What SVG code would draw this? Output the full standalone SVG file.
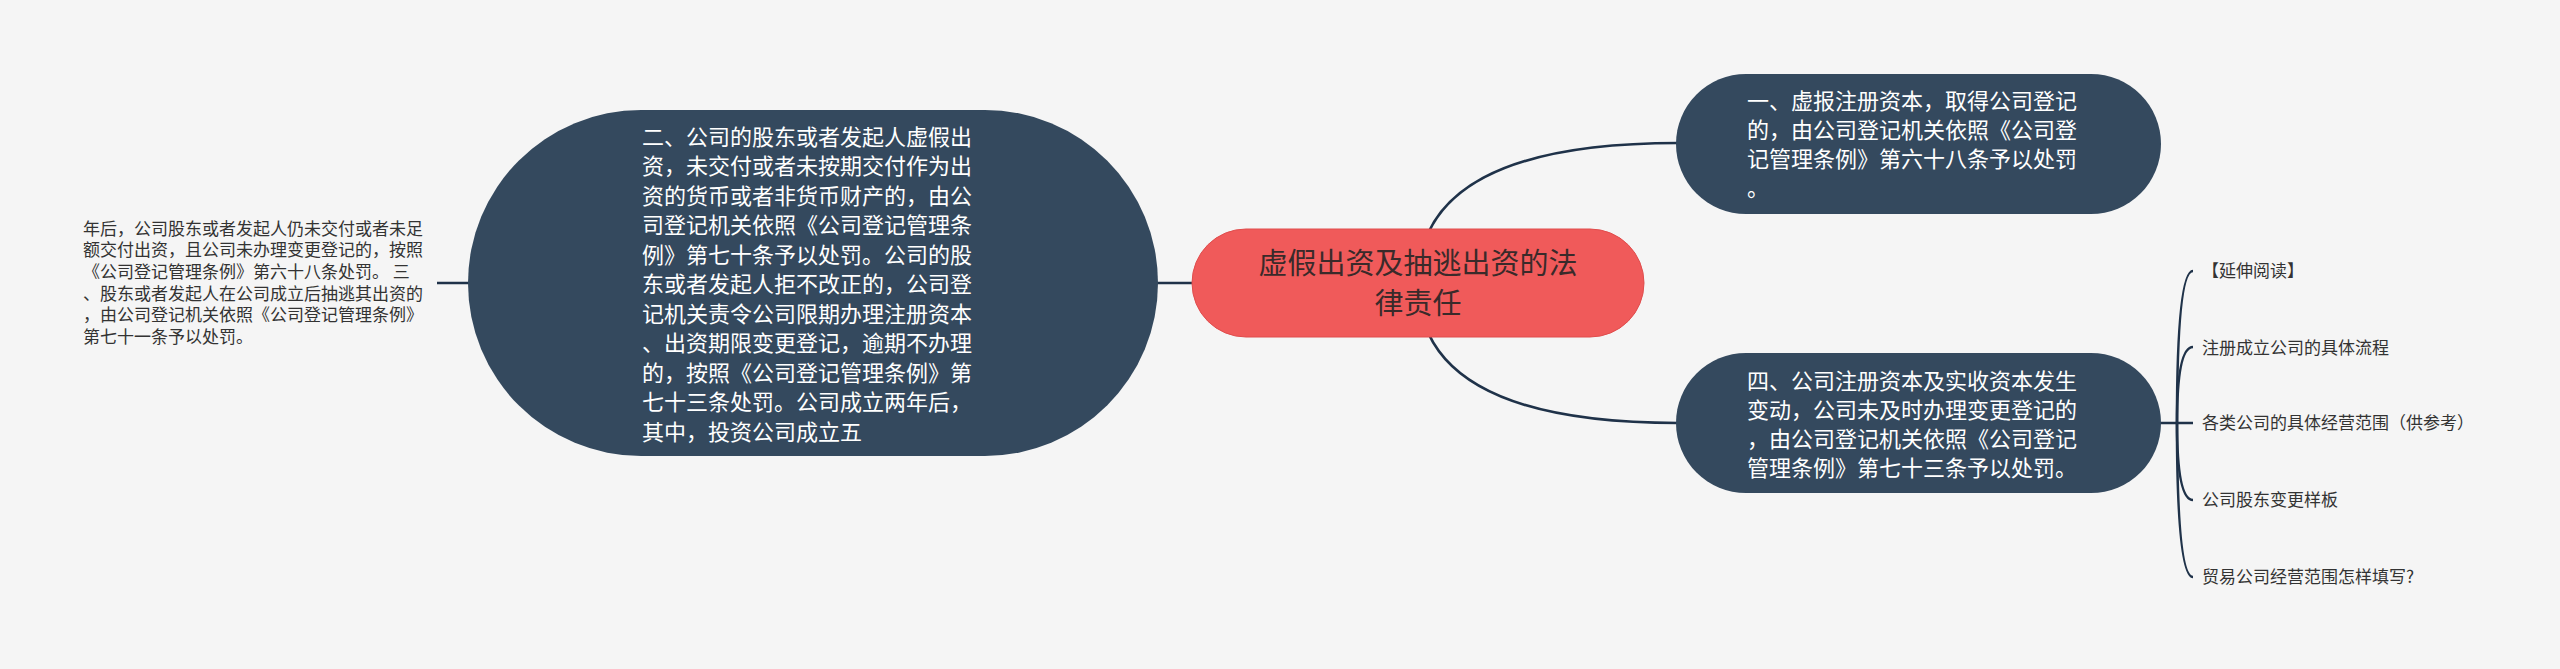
<svg xmlns="http://www.w3.org/2000/svg" width="2560" height="669" viewBox="0 0 2560 669">
<style>
.bg{fill:#f5f5f5}
.node{fill:#34495e}
.root{fill:#f05a5a;stroke:#e04d4d;stroke-width:1}
.conn{fill:none;stroke:#1f3249;stroke-width:2.6}
text{font-family:"Noto Sans CJK SC","Noto Sans",sans-serif}
.wt{fill:#ffffff;font-size:22px}
.rt{fill:#3a2a2a;font-size:29px;text-anchor:middle}
.pt{fill:#333333;font-size:17px}
</style>
<rect class="bg" x="0" y="0" width="2560" height="669"/>
<g id="connectors">
<line class="conn" x1="437" y1="283" x2="470" y2="283"/>
<line class="conn" x1="1156" y1="283" x2="1194" y2="283"/>
<path class="conn" d="M1418 283 Q1418 143 1678 143"/>
<path class="conn" d="M1418 283 Q1418 423 1678 423"/>
<line class="conn" x1="2159" y1="423" x2="2193" y2="423"/>
<path class="conn" d="M2177 423 Q2177 271 2193 271"/>
<path class="conn" d="M2177 423 Q2177 347 2193 347"/>
<path class="conn" d="M2177 423 Q2177 500 2193 500"/>
<path class="conn" d="M2177 423 Q2177 577 2193 577"/>
</g>
<g id="root">
<rect class="root" x="1192" y="229" width="452" height="108" rx="54"/>
<text class="rt" x="1418" y="274">虚假出资及抽逃出资的法</text>
<text class="rt" x="1418" y="314">律责任</text>
</g>
<g id="node-left">
<rect class="node" x="468" y="110" width="690" height="346" rx="173"/>
<text class="wt" x="642"><tspan x="642" y="144.5">二、公司的股东或者发起人虚假出</tspan><tspan x="642" y="174">资，未交付或者未按期交付作为出</tspan><tspan x="642" y="203.5">资的货币或者非货币财产的，由公</tspan><tspan x="642" y="233">司登记机关依照《公司登记管理条</tspan><tspan x="642" y="262.5">例》第七十条予以处罚。公司的股</tspan><tspan x="642" y="292">东或者发起人拒不改正的，公司登</tspan><tspan x="642" y="321.5">记机关责令公司限期办理注册资本</tspan><tspan x="642" y="351">、出资期限变更登记，逾期不办理</tspan><tspan x="642" y="380.5">的，按照《公司登记管理条例》第</tspan><tspan x="642" y="410">七十三条处罚。公司成立两年后，</tspan><tspan x="642" y="439.5">其中，投资公司成立五</tspan></text>
</g>
<g id="text-left">
<text class="pt"><tspan x="83" y="234.5">年后，公司股东或者发起人仍未交付或者未足</tspan><tspan x="83" y="256.2">额交付出资，且公司未办理变更登记的，按照</tspan><tspan x="83" y="277.9">《公司登记管理条例》第六十八条处罚。 三</tspan><tspan x="83" y="299.6">、股东或者发起人在公司成立后抽逃其出资的</tspan><tspan x="83" y="321.3">，由公司登记机关依照《公司登记管理条例》</tspan><tspan x="83" y="343">第七十一条予以处罚。</tspan></text>
</g>
<g id="node-r1">
<rect class="node" x="1676" y="74" width="485" height="140" rx="70"/>
<text class="wt"><tspan x="1747" y="109">一、虚报注册资本，取得公司登记</tspan><tspan x="1747" y="138">的，由公司登记机关依照《公司登</tspan><tspan x="1747" y="167">记管理条例》第六十八条予以处罚</tspan><tspan x="1747" y="196">。</tspan></text>
</g>
<g id="node-r2">
<rect class="node" x="1676" y="353" width="485" height="140" rx="70"/>
<text class="wt"><tspan x="1747" y="389">四、公司注册资本及实收资本发生</tspan><tspan x="1747" y="418">变动，公司未及时办理变更登记的</tspan><tspan x="1747" y="447">，由公司登记机关依照《公司登记</tspan><tspan x="1747" y="476">管理条例》第七十三条予以处罚。</tspan></text>
</g>
<g id="item-1"><text class="pt" x="2202" y="277">【延伸阅读】</text></g>
<g id="item-2"><text class="pt" x="2202" y="353.5">注册成立公司的具体流程</text></g>
<g id="item-3"><text class="pt" x="2202" y="429">各类公司的具体经营范围（供参考）</text></g>
<g id="item-4"><text class="pt" x="2202" y="506">公司股东变更样板</text></g>
<g id="item-5"><text class="pt" x="2202" y="583">贸易公司经营范围怎样填写?</text></g>
</svg>
